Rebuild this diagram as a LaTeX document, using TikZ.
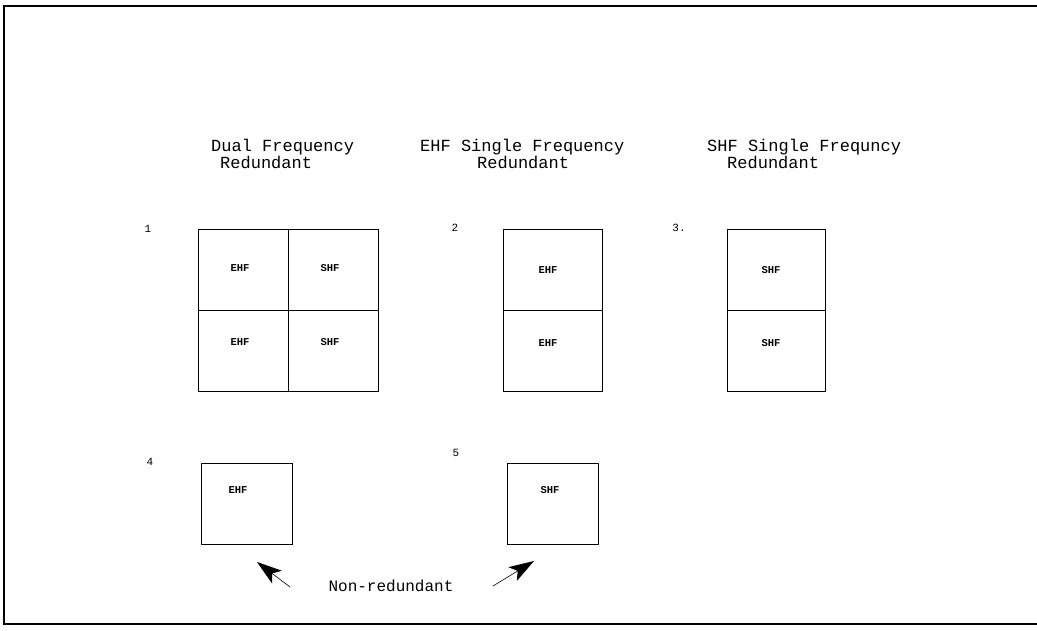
\documentclass[tikz,border=0pt]{standalone}
\usepackage{fontspec}
\setmonofont{Liberation Mono}
\usetikzlibrary{arrows.meta}
\tikzset{
  frameline/.style={line width=1.8pt, black},
  cell/.style={draw, line width=0.9pt, minimum width=#1, minimum height=81pt, inner sep=0pt},
  cell/.default=90pt,
  title/.style={font=\ttfamily\fontsize{17}{17}\selectfont, inner sep=0pt, anchor=west},
  lab/.style={font=\ttfamily\bfseries\fontsize{10.5}{10.5}\selectfont, inner sep=0pt},
  num/.style={font=\ttfamily\fontsize{11}{11}\selectfont, inner sep=0pt},
  nrarrow/.style={line width=0.6pt, -{Stealth[length=25pt,width=16pt,inset=6pt]}}
}
\begin{document}
\begin{tikzpicture}[x=1pt,y=-1pt]
\useasboundingbox (0,0) rectangle (1037,630);
% frame
\coordinate (ftr) at (1037,6);
\coordinate (ftl) at (4,6);
\coordinate (fbl) at (4,624);
\coordinate (fbr) at (1037,624);
\draw[frameline] (ftr) -- (ftl) -- (fbl) -- (fbr);

% titles
\node[title] (t1a) at (211,147) {Dual Frequency};
\node[title] (t1b) at (220,162) {Redundant};
\node[title] (t2a) at (420,147) {EHF Single Frequency};
\node[title] (t2b) at (477,162) {Redundant};
\node[title] (t3a) at (707,147) {SHF Single Frequncy};
\node[title] (t3b) at (727,162) {Redundant};

% numbers
\node[num] (n1) at (148,229) {1};
\node[num] (n2) at (455,228) {2};
\node[num] (n3) at (679,228) {3.};
\node[num] (n4) at (150,462) {4};
\node[num] (n5) at (456,453) {5};

% group 1
\node[cell] (c1a) at (243,269.5) {};
\node[cell] (c1b) at (333,269.5) {};
\node[cell] (c1c) at (243,350.5) {};
\node[cell] (c1d) at (333,350.5) {};
\node[lab] (l1a) at (240,268) {EHF};
\node[lab] (l1b) at (330,268) {SHF};
\node[lab] (l1c) at (240,342) {EHF};
\node[lab] (l1d) at (330,342) {SHF};

% group 2
\node[cell=99pt] (c2a) at (552.5,269.5) {};
\node[cell=99pt] (c2b) at (552.5,350.5) {};
\node[lab] (l2a) at (548,270) {EHF};
\node[lab] (l2b) at (548,343) {EHF};

% group 3
\node[cell=98pt] (c3a) at (776,269.5) {};
\node[cell=98pt] (c3b) at (776,350.5) {};
\node[lab] (l3a) at (771,270) {SHF};
\node[lab] (l3b) at (771,343) {SHF};

% group 4 and 5
\node[cell=91pt] (c4) at (246.5,503.5) {};
\node[lab] (l4) at (238,490) {EHF};
\node[cell=91pt] (c5) at (552.5,503.5) {};
\node[lab] (l5) at (550,490) {SHF};

% non-redundant
\node[title, anchor=center, font=\ttfamily\fontsize{16}{16}\selectfont] (nr) at (391,586) {Non-redundant};
\coordinate (lt) at (290,587);
\coordinate (lh) at (257,562);
\coordinate (rt) at (493,586);
\coordinate (rh) at (534,561);
\draw[nrarrow] (lt) -- (lh);
\draw[nrarrow] (rt) -- (rh);
\end{tikzpicture}
\end{document}
